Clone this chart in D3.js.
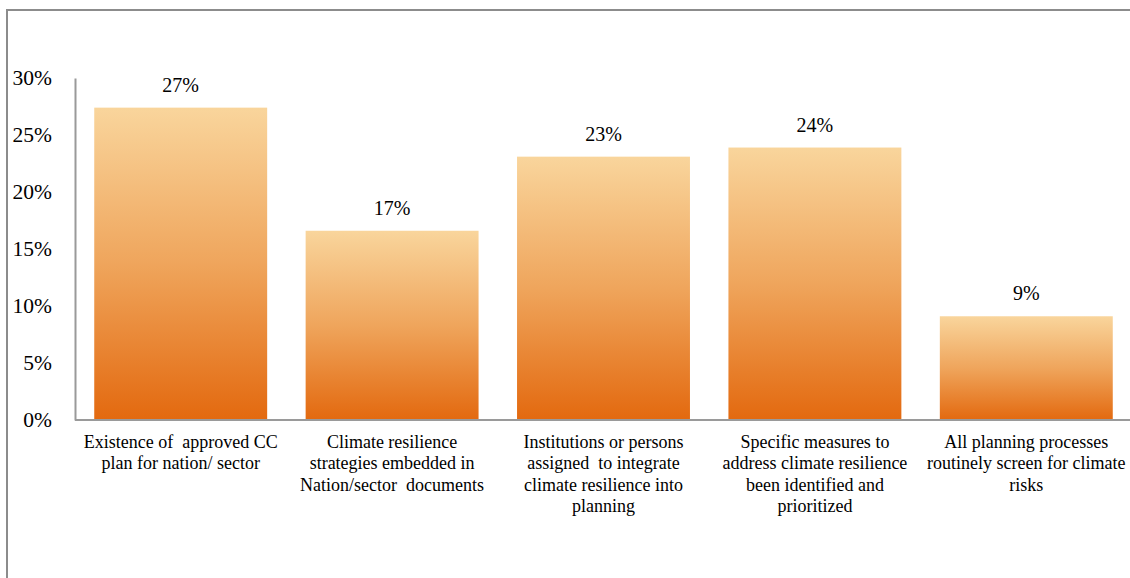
<!DOCTYPE html>
<html>
<head>
<meta charset="utf-8">
<script src="https://cdn.jsdelivr.net/npm/d3@7"></script>
<style>
  html, body { margin: 0; padding: 0; background: #fff; }
  svg { display: block; }
  text { white-space: pre; font-family: "Liberation Serif", "Times New Roman", serif; }
</style>
</head>
<body>
<svg id="chart" width="1130" height="578"></svg>
<script>
// Share of respondents reporting each climate-planning element
const categories = [
  ["Existence of  approved CC", "plan for nation/ sector"],
  ["Climate resilience", "strategies embedded in", "Nation/sector  documents"],
  ["Institutions or persons", "assigned  to integrate", "climate resilience into", "planning"],
  ["Specific measures to", "address climate resilience", "been identified and", "prioritized"],
  ["All planning processes", "routinely screen for climate", "risks"]
];
const values = [0.274, 0.166, 0.231, 0.239, 0.091];
const yTicks = [0, 0.05, 0.10, 0.15, 0.20, 0.25, 0.30];

const FONT = "Liberation Serif";
const svg = d3.select("#chart");
const margin = { left: 75, top: 78, bottom: 420, right: 1132 };

// outer frame (runs off the right and bottom edges)
svg.append("path")
  .attr("d", "M7,578 L7,10 L1130,10")
  .attr("fill", "none")
  .attr("stroke", "#8c8c8c")
  .attr("stroke-width", 2);

const x = d3.scaleBand()
  .domain(d3.range(categories.length))
  .range([margin.left, margin.right])
  .paddingInner(0.182)
  .paddingOuter(0.091);

const y = d3.scaleLinear()
  .domain([0, 0.30])
  .range([margin.bottom, margin.top]);

// vertical gradient for bars
const defs = svg.append("defs");
const grad = defs.append("linearGradient")
  .attr("id", "barGrad")
  .attr("x1", 0).attr("y1", 0).attr("x2", 0).attr("y2", 1);
grad.append("stop").attr("offset", "0%").attr("stop-color", "#f9d59c");
grad.append("stop").attr("offset", "50%").attr("stop-color", "#efa55c");
grad.append("stop").attr("offset", "100%").attr("stop-color", "#e3690f");

// bars
svg.append("g").selectAll("rect")
  .data(values)
  .join("rect")
  .attr("x", (d, i) => x(i))
  .attr("width", x.bandwidth())
  .attr("y", d => y(d))
  .attr("height", d => y(0) - y(d))
  .attr("fill", "url(#barGrad)");

// y axis
const yAxis = d3.axisLeft(y)
  .tickValues(yTicks)
  .tickFormat(d3.format(".0%"))
  .tickSize(0)
  .tickPadding(23);
const yg = svg.append("g")
  .attr("transform", `translate(${margin.left},0)`)
  .call(yAxis)
  .attr("font-family", FONT)
  .attr("font-size", 21.5);
yg.select(".domain").attr("stroke", "#9a9a9a").attr("stroke-width", 2);
yg.selectAll("text").attr("fill", "#000");

// x baseline
svg.append("line")
  .attr("x1", margin.left).attr("x2", 1130)
  .attr("y1", y(0)).attr("y2", y(0))
  .attr("stroke", "#9a9a9a")
  .attr("stroke-width", 2);

// value labels
svg.append("g").selectAll("text")
  .data(values)
  .join("text")
  .attr("x", (d, i) => x(i) + x.bandwidth() / 2)
  .attr("y", d => y(d) - 16)
  .attr("text-anchor", "middle")
  .attr("font-family", FONT)
  .attr("font-size", 20)
  .attr("fill", "#000")
  .text(d => d3.format(".0%")(d));

// category labels
const cg = svg.append("g").selectAll("text")
  .data(categories)
  .join("text")
  .attr("text-anchor", "middle")
  .attr("font-family", FONT)
  .attr("font-size", 18)
  .attr("fill", "#000")
  .attr("transform", (d, i) => `translate(${x(i) + x.bandwidth() / 2},${y(0) + 28})`);
cg.selectAll("tspan")
  .data(d => d)
  .join("tspan")
  .attr("x", 0)
  .attr("y", (d, j) => j * 21.4)
  .text(d => d);
</script>
</body>
</html>
